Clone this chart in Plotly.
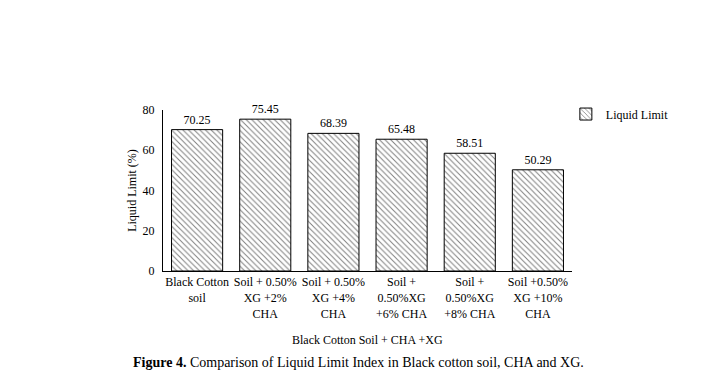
import plotly.graph_objects as go

categories = ["Black Cotton<br>soil", "Soil + 0.50%<br>XG +2%<br>CHA", "Soil + 0.50%<br>XG +4%<br>CHA",
              "Soil +<br>0.50%XG<br>+6% CHA", "Soil +<br>0.50%XG<br>+8% CHA", "Soil +0.50%<br>XG +10%<br>CHA"]
liquid_limit = [70.25, 75.45, 68.39, 65.48, 58.51, 50.29]
yticks = [0, 20, 40, 60, 80]

FONT = "'Liberation Serif', 'Times New Roman', 'DejaVu Serif', serif"

fig = go.Figure()
fig.add_trace(go.Bar(
    x=categories, y=liquid_limit, name="Liquid Limit",
    text=[f"{v:.2f}" for v in liquid_limit], textposition="outside",
    textfont=dict(family=FONT, size=12, color="black"), cliponaxis=False,
    marker=dict(color="white", line=dict(color="black", width=1),
                pattern=dict(shape="\\", size=4, solidity=0.25, fgcolor="black", bgcolor="white")),
))

W, H = 728, 379
L, R, T, B = 163, 156, 110, 108
fig.update_layout(
    width=W, height=H, margin=dict(l=L, r=R, t=T, b=B),
    paper_bgcolor="white", plot_bgcolor="white",
    font=dict(family=FONT, size=12, color="black"),
    bargap=0.25, showlegend=True,
    legend=dict(x=0.985, y=1.065, xanchor="left", yanchor="top", bgcolor="rgba(0,0,0,0)",
                font=dict(family=FONT, size=12), itemwidth=30),
    xaxis=dict(showline=True, linecolor="black", linewidth=1, ticks="", showgrid=False,
               tickfont=dict(family=FONT, size=12), tickangle=0),
    yaxis=dict(range=[0, 80], tickvals=yticks, showline=True, linecolor="black", linewidth=1,
               ticks="", showgrid=False, zeroline=False, tickfont=dict(family=FONT, size=12),
               ticklabelstandoff=5,
               title=dict(text="Liquid Limit (%)", font=dict(family=FONT, size=12), standoff=3)),
    annotations=[
        dict(text="Black Cotton Soil + CHA +XG", x=0.5, y=-0.43, xref="paper", yref="paper",
             xanchor="center", yanchor="middle", showarrow=False, font=dict(family=FONT, size=12)),
        dict(text="<b>Figure 4.</b> Comparison of Liquid Limit Index in Black cotton soil, CHA and XG.",
             x=(358 - L) / (W - L - R), y=(271 - 362) / 161, xref="paper", yref="paper",
             xanchor="center", yanchor="middle", showarrow=False, font=dict(family=FONT, size=14)),
    ],
)
fig.write_html("out.html")
